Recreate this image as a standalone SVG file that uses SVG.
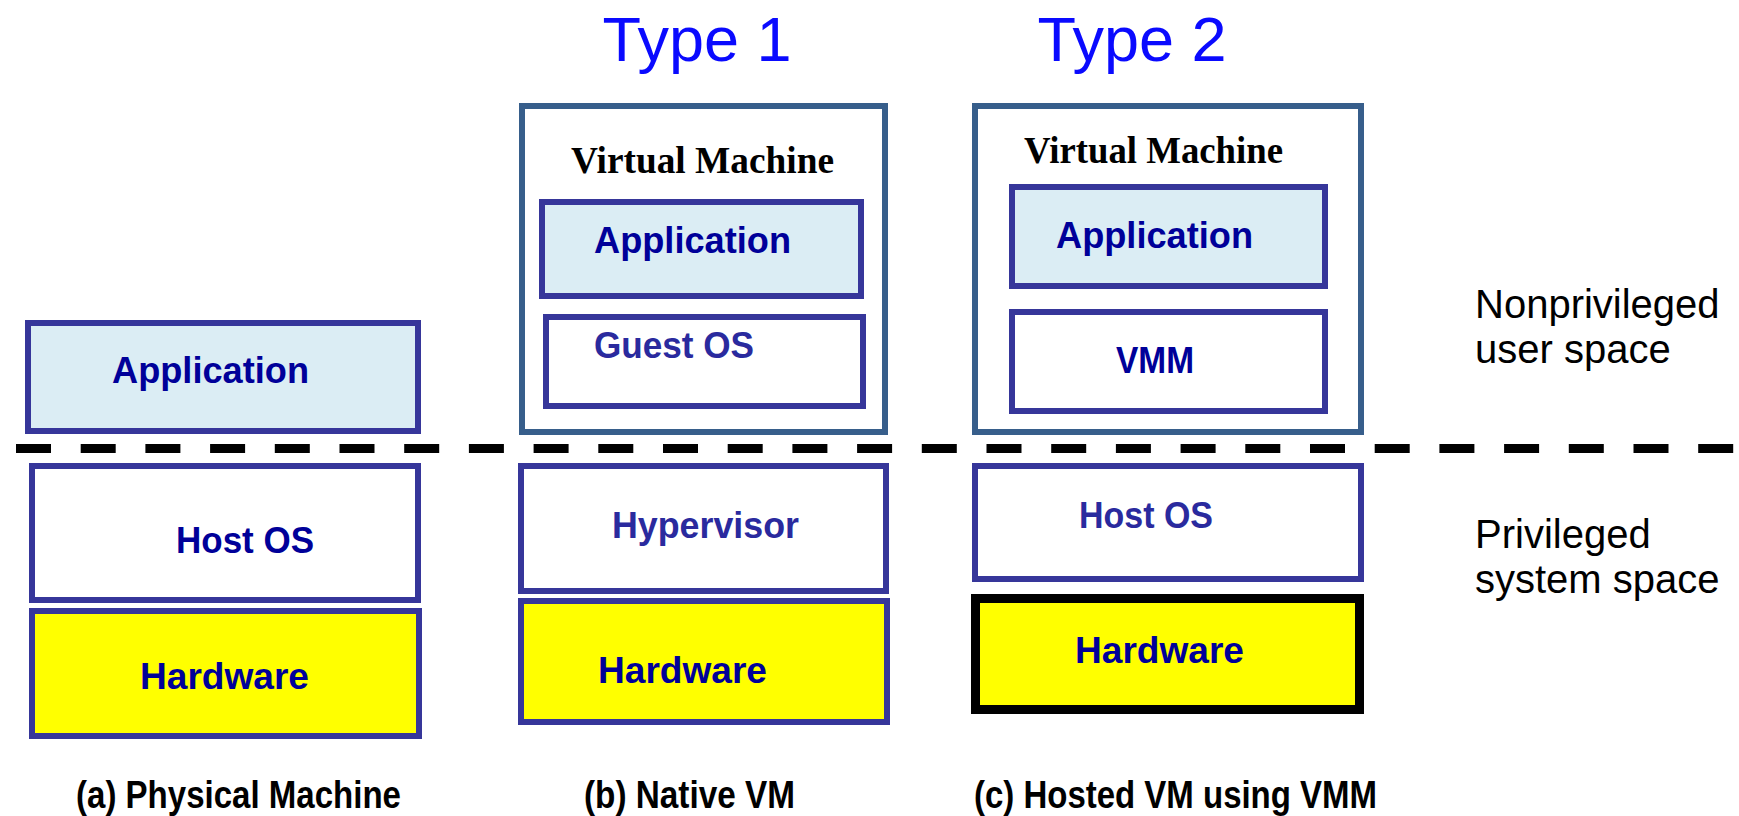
<svg xmlns="http://www.w3.org/2000/svg" width="1739" height="816" viewBox="0 0 1739 816">
<style>
  .box { stroke: #36369a; stroke-width: 6; }
  .vm { fill: #ffffff; stroke: #375e8b; stroke-width: 6; }
  .app { fill: #dbedf4; }
  .wht { fill: #ffffff; }
  .hw { fill: #ffff00; }
  .lbl { font-family: "Liberation Sans", Arial, sans-serif; font-weight: bold; font-size: 36px; fill: #000099; }
  .lbl2 { fill: #2a2a9e; }
  .vmt { font-family: "Liberation Serif", "Times New Roman", serif; font-weight: bold; font-size: 38px; fill: #000000; }
  .type { font-family: "Liberation Sans", Arial, sans-serif; font-size: 63px; fill: #0a0aff; text-anchor: middle; }
  .side { font-family: "Liberation Sans", Arial, sans-serif; font-size: 40px; fill: #000000; }
  .cap { font-family: "Liberation Sans", Arial, sans-serif; font-weight: bold; font-size: 38px; fill: #000000; }
</style>
<rect width="1739" height="816" fill="#ffffff"/>

<text class="type" x="697" y="61">Type 1</text>
<text class="type" x="1132" y="61">Type 2</text>

<g id="connectors">
  <line x1="16" y1="448.5" x2="1739" y2="448.5" stroke="#000000" stroke-width="9" stroke-dasharray="35 29.7"/>
</g>

<g id="a-application">
  <rect class="box app" x="28" y="323" width="390" height="108"/>
  <text class="lbl" x="112" y="383" textLength="197" lengthAdjust="spacingAndGlyphs">Application</text>
</g>
<g id="a-hostos">
  <rect class="box wht" x="32" y="466" width="386" height="134"/>
  <text class="lbl" x="176" y="553" textLength="138" lengthAdjust="spacingAndGlyphs">Host OS</text>
</g>
<g id="a-hardware">
  <rect class="box hw" x="32" y="611" width="387" height="125"/>
  <text class="lbl" x="140" y="689" textLength="169" lengthAdjust="spacingAndGlyphs">Hardware</text>
</g>

<g id="b-vm">
  <rect class="vm" x="522" y="106" width="363" height="326"/>
  <text class="vmt" x="571" y="173" textLength="263" lengthAdjust="spacingAndGlyphs">Virtual Machine</text>
</g>
<g id="b-application">
  <rect class="box app" x="542" y="202" width="319" height="94"/>
  <text class="lbl" x="594" y="253" textLength="197" lengthAdjust="spacingAndGlyphs">Application</text>
</g>
<g id="b-guestos">
  <rect class="box wht" x="546" y="317" width="317" height="89"/>
  <text class="lbl lbl2" x="594" y="358" textLength="160" lengthAdjust="spacingAndGlyphs">Guest OS</text>
</g>
<g id="b-hypervisor">
  <rect class="box wht" x="521" y="466" width="365" height="125"/>
  <text class="lbl lbl2" x="612" y="538" textLength="187" lengthAdjust="spacingAndGlyphs">Hypervisor</text>
</g>
<g id="b-hardware">
  <rect class="box hw" x="521" y="601" width="366" height="121"/>
  <text class="lbl" x="598" y="683" textLength="169" lengthAdjust="spacingAndGlyphs">Hardware</text>
</g>

<g id="c-vm">
  <rect class="vm" x="975" y="106" width="386" height="326"/>
  <text class="vmt" x="1024" y="163" textLength="259" lengthAdjust="spacingAndGlyphs">Virtual Machine</text>
</g>
<g id="c-application">
  <rect class="box app" x="1012" y="187" width="313" height="99"/>
  <text class="lbl" x="1056" y="248" textLength="197" lengthAdjust="spacingAndGlyphs">Application</text>
</g>
<g id="c-vmm">
  <rect class="box wht" x="1012" y="312" width="313" height="99"/>
  <text class="lbl" x="1116" y="373" textLength="78" lengthAdjust="spacingAndGlyphs">VMM</text>
</g>
<g id="c-hostos">
  <rect class="box wht" x="975" y="466" width="386" height="113"/>
  <text class="lbl lbl2" x="1079" y="528" textLength="134" lengthAdjust="spacingAndGlyphs">Host OS</text>
</g>
<g id="c-hardware">
  <rect x="975.5" y="598.5" width="384" height="111" fill="#ffff00" stroke="#000000" stroke-width="9"/>
  <text class="lbl" x="1075" y="663" textLength="169" lengthAdjust="spacingAndGlyphs">Hardware</text>
</g>

<g id="side-labels">
  <text class="side" x="1475" y="318">Nonprivileged</text>
  <text class="side" x="1475" y="363">user space</text>
  <text class="side" x="1475" y="548">Privileged</text>
  <text class="side" x="1475" y="593">system space</text>
</g>

<g id="captions">
  <text class="cap" x="76" y="808" textLength="325" lengthAdjust="spacingAndGlyphs">(a) Physical Machine</text>
  <text class="cap" x="584" y="808" textLength="211" lengthAdjust="spacingAndGlyphs">(b) Native VM</text>
  <text class="cap" x="974" y="808" textLength="403" lengthAdjust="spacingAndGlyphs">(c) Hosted VM using VMM</text>
</g>
</svg>
